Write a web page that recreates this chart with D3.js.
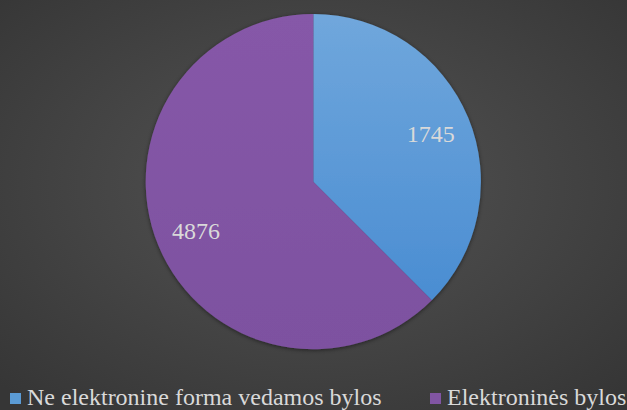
<!DOCTYPE html>
<html><head><meta charset="utf-8">
<script src="https://cdn.jsdelivr.net/npm/d3@7"></script>
<style>html,body{margin:0;padding:0;background:#404040;}svg{display:block;}</style>
</head><body>
<script>
const categories = ["Ne elektronine forma vedamos bylos", "Elektroninės bylos"];
const labels = [1745, 4876];
// slice shares as drawn in the picture (percent of the circle)
const shares = [37.5, 62.5];
const colors = ["#5b9bd5", "#8155a3"];

const FONT = "Times New Roman";
const W = 627, H = 410;
const svg = d3.select("body").append("svg").attr("width", W).attr("height", H);
const defs = svg.append("defs");
const bg = defs.append("radialGradient").attr("id", "bg").attr("cx", "50%").attr("cy", "45%").attr("r", "70%");
bg.append("stop").attr("offset", "0%").attr("stop-color", "#545454");
bg.append("stop").attr("offset", "100%").attr("stop-color", "#363636");
svg.append("rect").attr("width", W).attr("height", H).attr("fill", "url(#bg)");

const g0 = defs.append("linearGradient").attr("id", "g0").attr("x1", 0).attr("y1", 0).attr("x2", 0).attr("y2", 1);
g0.append("stop").attr("offset", "0%").attr("stop-color", "#70a7dc");
g0.append("stop").attr("offset", "100%").attr("stop-color", "#4a8dd2");
const g1 = defs.append("linearGradient").attr("id", "g1").attr("x1", 0).attr("y1", 0).attr("x2", 0).attr("y2", 1);
g1.append("stop").attr("offset", "0%").attr("stop-color", "#8658a8");
g1.append("stop").attr("offset", "100%").attr("stop-color", "#7d51a0");
const sh = defs.append("filter").attr("id", "sh").attr("x", "-20%").attr("y", "-20%").attr("width", "140%").attr("height", "140%");
sh.append("feDropShadow").attr("dx", 0).attr("dy", 1).attr("stdDeviation", 2).attr("flood-color", "#000").attr("flood-opacity", 0.5);

const cx = 313.3, cy = 181.7, R = 167.6;
const pie = d3.pie().sort(null).value(d => d.share);
const data = shares.map((s, i) => ({share: s, label: labels[i]}));
const arcs = pie(data);
const arc = d3.arc().innerRadius(0).outerRadius(R);
const g = svg.append("g").attr("transform", `translate(${cx},${cy})`);
g.append("g").attr("filter", "url(#sh)").selectAll("path").data(arcs).join("path")
  .attr("d", arc).attr("fill", (d, i) => `url(#g${i})`);

const labelArc = d3.arc().innerRadius(127).outerRadius(127);
g.selectAll("text.lbl").data(arcs).join("text").attr("class", "lbl")
  .attr("transform", d => `translate(${labelArc.centroid(d)})`)
  .attr("text-anchor", "middle").attr("dy", "0.35em")
  .attr("font-family", FONT).attr("font-size", 24).attr("fill", "#d9d9d9")
  .text(d => d.data.label);

const leg = svg.append("g");
const items = [{x: 10, i: 0}, {x: 430, i: 1}];
items.forEach(it => {
  leg.append("rect").attr("x", it.x).attr("y", 393).attr("width", 11).attr("height", 11).attr("fill", colors[it.i]);
  leg.append("text").attr("x", it.x + 17).attr("y", 405)
    .attr("font-family", FONT).attr("font-size", 24).attr("fill", "#d9d9d9")
    .text(categories[it.i]);
});
</script>
</body></html>
